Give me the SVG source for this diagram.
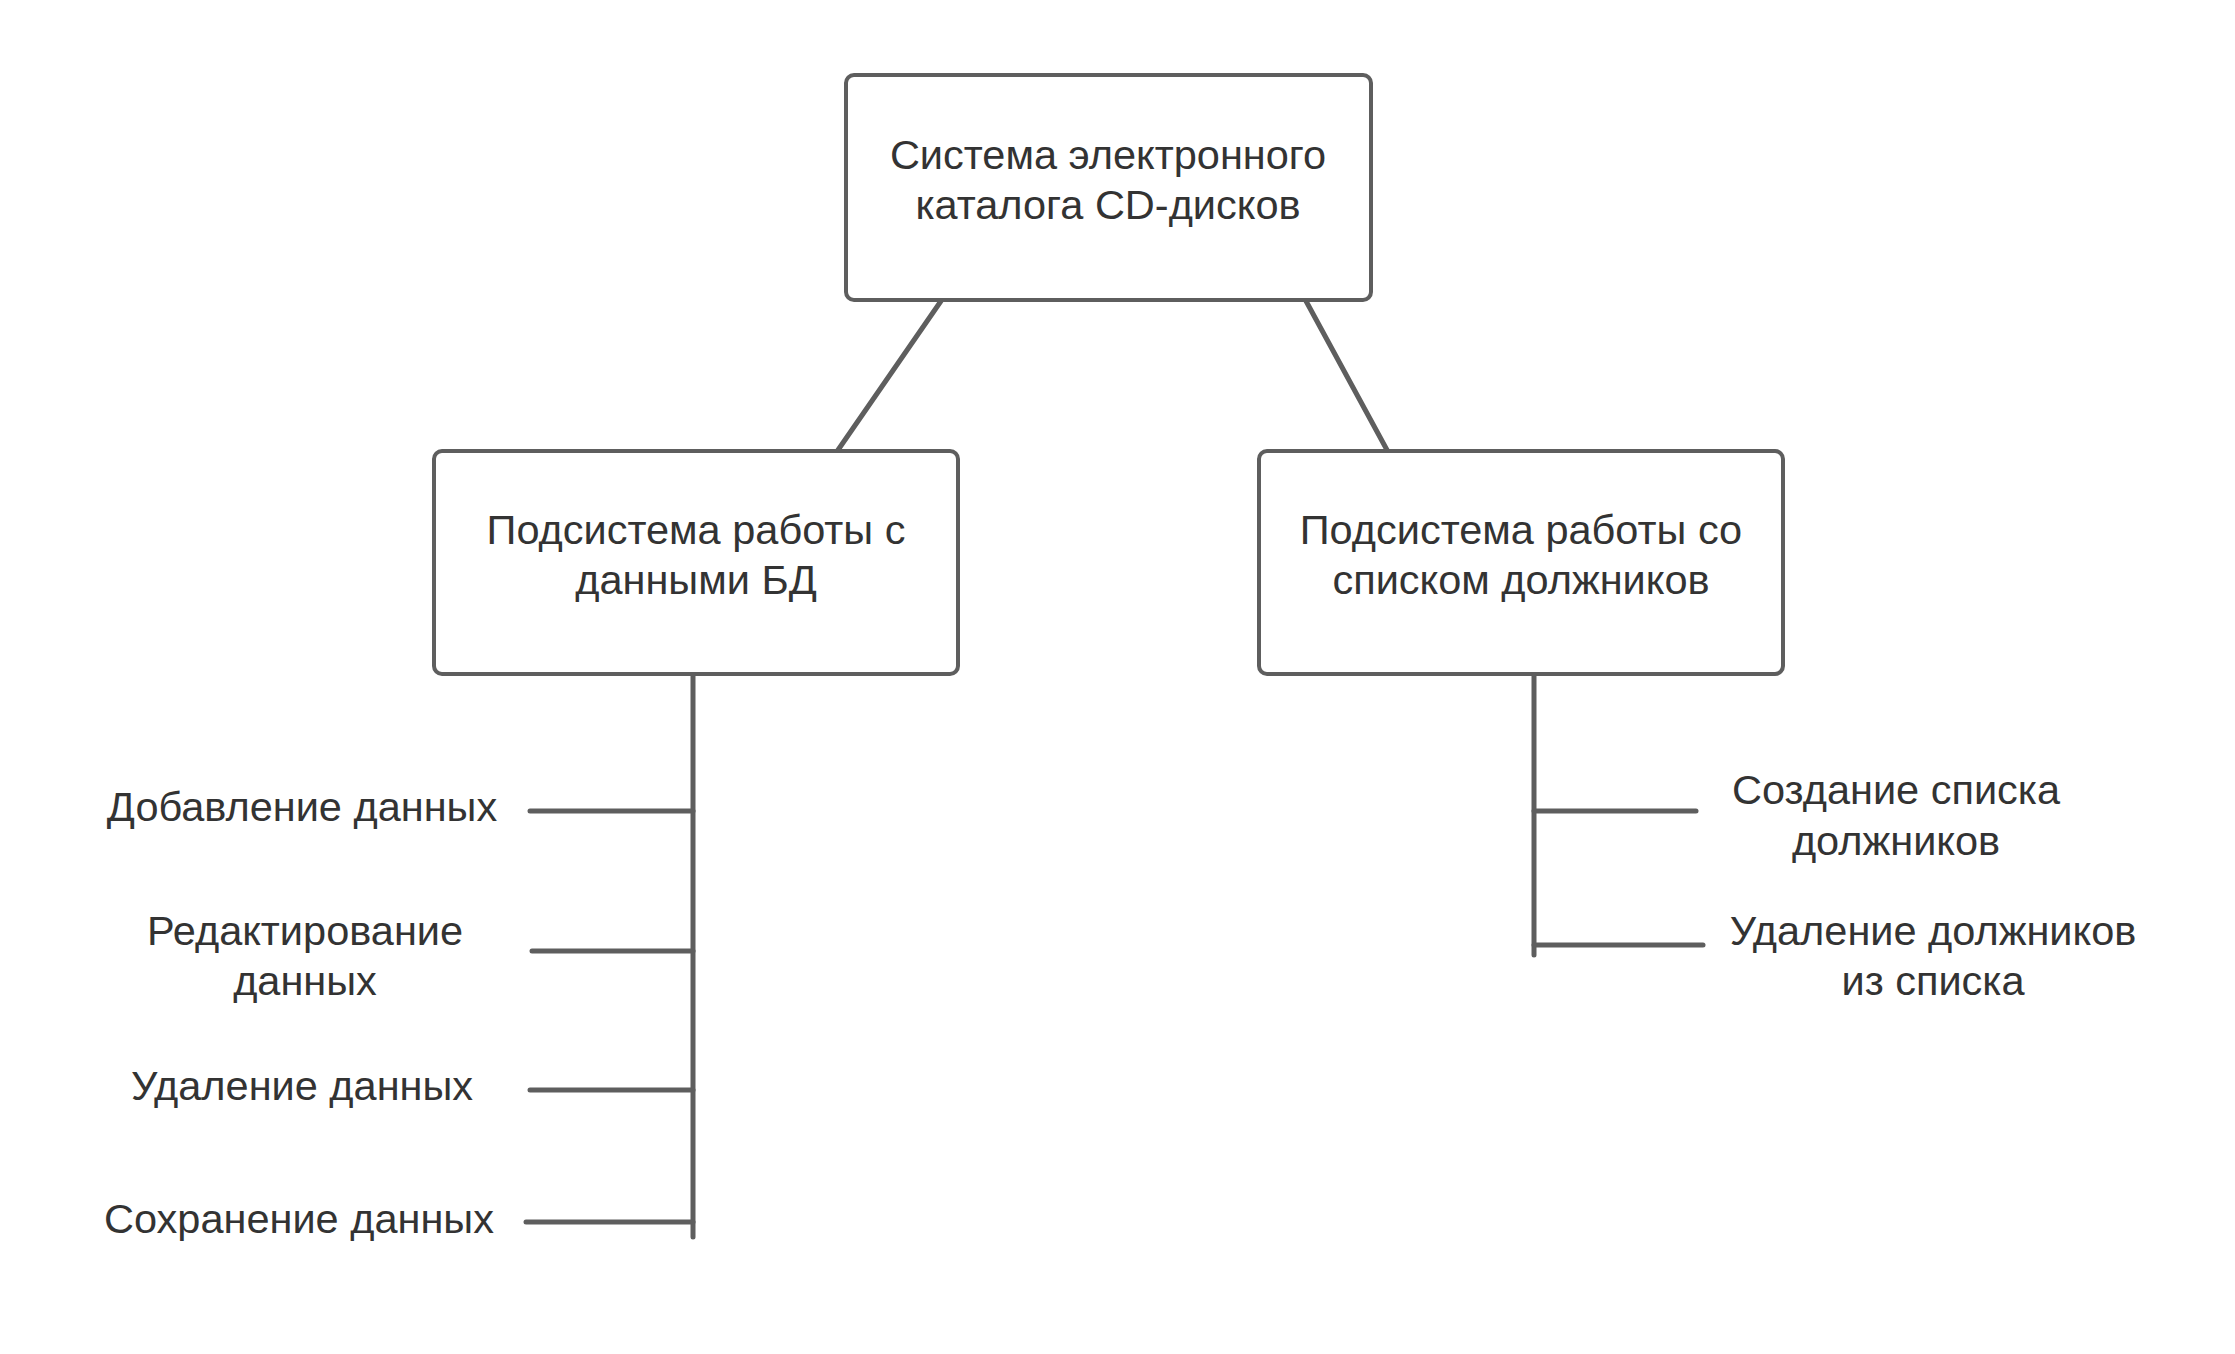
<svg xmlns="http://www.w3.org/2000/svg" width="2235" height="1354" viewBox="0 0 2235 1354">
<style>
.box{fill:#fff;stroke:#5e5e5e;stroke-width:4}
.ln{stroke:#5e5e5e;stroke-width:5;stroke-linecap:round;fill:none}
text{font-family:"Liberation Sans",Arial,sans-serif;font-size:41.5px;fill:#333;text-anchor:middle}
</style>
<rect width="2235" height="1354" fill="#fff"/>
<g id="connectors">
<line class="ln" x1="941" y1="301" x2="838" y2="450"/>
<line class="ln" x1="1306" y1="301" x2="1387" y2="450"/>
<line class="ln" x1="693" y1="674" x2="693" y2="1237"/>
<line class="ln" x1="530" y1="811" x2="693" y2="811"/>
<line class="ln" x1="532" y1="951" x2="693" y2="951"/>
<line class="ln" x1="530" y1="1090" x2="693" y2="1090"/>
<line class="ln" x1="526" y1="1222" x2="693" y2="1222"/>
<line class="ln" x1="1534" y1="674" x2="1534" y2="955"/>
<line class="ln" x1="1534" y1="811" x2="1696" y2="811"/>
<line class="ln" x1="1534" y1="945" x2="1703" y2="945"/>
</g>
<g id="root">
<rect class="box" x="846" y="75" width="525" height="225" rx="8"/>
<text x="1108" y="169">Система электронного</text>
<text x="1108" y="219">каталога CD-дисков</text>
</g>
<g id="sub-db">
<rect class="box" x="434" y="451" width="524" height="223" rx="8"/>
<text x="696" y="544">Подсистема работы с</text>
<text x="696" y="594">данными БД</text>
</g>
<g id="sub-debtors">
<rect class="box" x="1259" y="451" width="524" height="223" rx="8"/>
<text x="1521" y="544">Подсистема работы со</text>
<text x="1521" y="594">списком должников</text>
</g>
<g id="add-data"><text x="302" y="821">Добавление данных</text></g>
<g id="edit-data"><text x="305" y="945">Редактирование</text><text x="305" y="995">данных</text></g>
<g id="delete-data"><text x="302" y="1100">Удаление данных</text></g>
<g id="save-data"><text x="299" y="1233">Сохранение данных</text></g>
<g id="create-list"><text x="1896" y="804">Создание списка</text><text x="1896" y="855">должников</text></g>
<g id="delete-debtors"><text x="1933" y="945">Удаление должников</text><text x="1933" y="995">из списка</text></g>
</svg>
